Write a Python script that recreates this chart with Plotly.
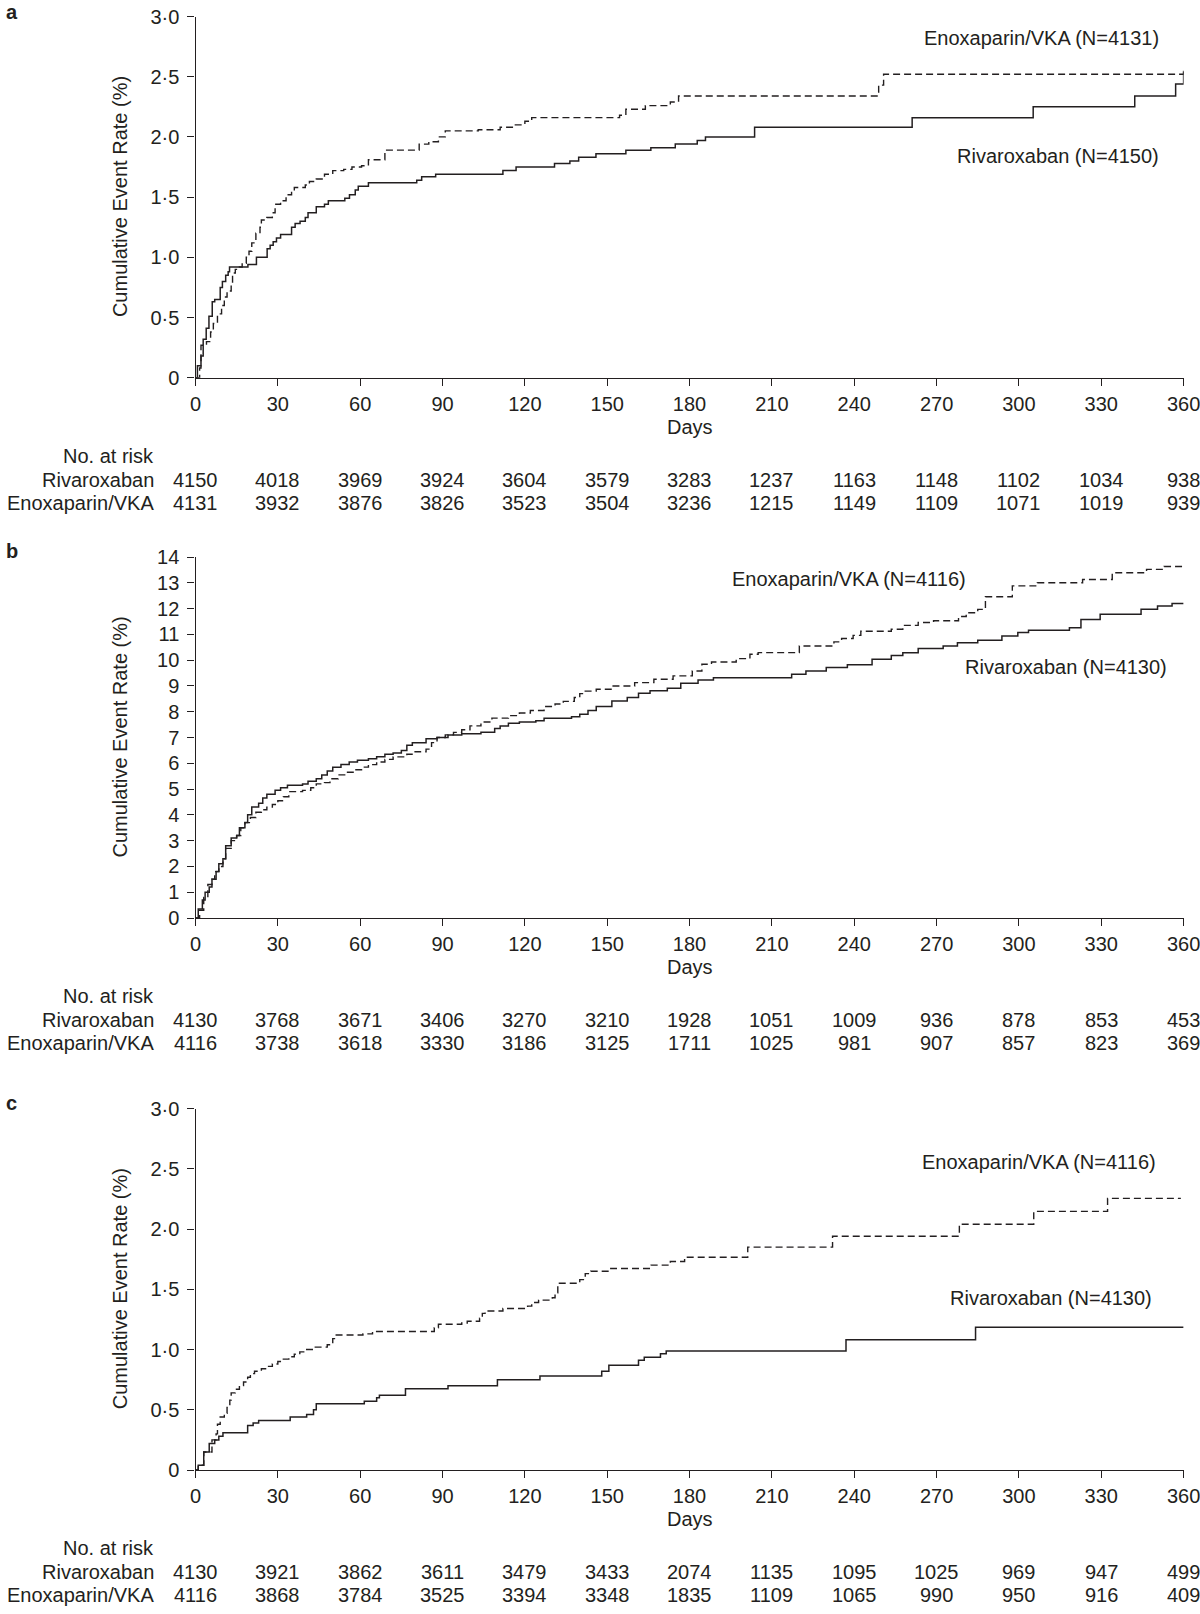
import plotly.graph_objects as go

# ---------------- data ----------------
days_ticks = [0, 30, 60, 90, 120, 150, 180, 210, 240, 270, 300, 330, 360]

# Panel a
a_riva_days = [0, 0.7, 2, 2.8, 3.9, 4.9, 6.1, 7, 9, 9.8, 11, 11.9, 12.4, 19.1, 22.2, 26.1, 27.2, 28.3, 29.5, 31,
               35, 36.3, 38.1, 40, 41, 44, 47, 48.4, 54.4, 56.1, 58.2, 59.3, 63, 80.6, 82.4, 87.5, 112, 116.8, 130.8, 136.4,
               139.6, 145.9, 156.8, 165.9, 174.8, 182.8, 185.8, 203.7, 261.1, 305.2, 342.2, 357.1, 360]
a_riva_rate = [0, .1, .18, .32, .41, .51, .63, .65, .75, .8, .85, .88, .92, .94, 1.0, 1.07, 1.1, 1.13, 1.16, 1.19,
               1.25, 1.28, 1.3, 1.33, 1.37, 1.42, 1.44, 1.47, 1.49, 1.52, 1.56, 1.59, 1.62, 1.64, 1.67, 1.69, 1.72, 1.75, 1.78, 1.8,
               1.83, 1.86, 1.89, 1.91, 1.94, 1.97, 2.0, 2.08, 2.16, 2.25, 2.34, 2.44, 2.55]
a_enox_days = [0, 1.5, 2, 4, 5.5, 6.5, 8, 9.5, 10.5, 11.5, 13, 13.5, 14.5, 16, 17, 18.5, 19.5, 20.5, 22, 23.5,
               24, 26, 28, 29, 31, 33, 35, 36, 40, 41.5, 44, 47, 50, 54, 57, 60.5, 63, 69, 81.5, 85,
               88.5, 91, 103, 111, 116, 120, 122.5, 154.5, 156.8, 163.9, 173, 176, 248.9, 250.7, 360]
a_enox_rate = [0, .08, .27, .3, .38, .45, .53, .6, .67, .72, .78, .87, .9, .92, .95, 1.0, 1.05, 1.12, 1.2, 1.25,
               1.31, 1.33, 1.37, 1.44, 1.47, 1.52, 1.55, 1.58, 1.6, 1.63, 1.65, 1.69, 1.72, 1.73, 1.75, 1.76, 1.81, 1.89, 1.94, 1.96,
               2.0, 2.05, 2.06, 2.08, 2.1, 2.13, 2.16, 2.18, 2.23, 2.26, 2.29, 2.34, 2.43, 2.52, 2.55]

# Panel b
b_riva_days = [0, 1, 2.5, 3.5, 5, 6, 7.5, 8.5, 10, 11, 13, 15, 16, 18, 19, 20.5, 23, 24.5, 26, 29,
               31, 33.5, 39, 41, 44, 46, 48, 50, 53, 56, 59, 63, 66, 69, 72, 75, 77, 79, 84, 88,
               92, 97, 104, 109, 111, 114, 118, 124, 127, 137, 140, 143, 146, 151.7, 157.3, 161.4, 165.6, 171.9, 176.8, 183.1,
               188.7, 217.2, 222.4, 229.8, 237.5, 246.5, 253.5, 257.7, 263.3, 272.4, 277.6, 285, 293.8, 299.6, 303.5, 318.4,
               322.6, 329.6, 344.5, 350.5, 355.8, 360]
b_riva_rate = [0, .35, .7, 1, 1.2, 1.5, 1.8, 2.1, 2.3, 2.8, 3.1, 3.2, 3.5, 3.7, 4.0, 4.3, 4.45, 4.65, 4.8, 4.95,
               5.05, 5.15, 5.2, 5.3, 5.4, 5.55, 5.7, 5.85, 5.95, 6.05, 6.12, 6.18, 6.25, 6.35, 6.4, 6.5, 6.7, 6.8, 6.95, 7.0,
               7.1, 7.15, 7.2, 7.35, 7.45, 7.55, 7.6, 7.65, 7.75, 7.8, 7.9, 8.05, 8.2, 8.42, 8.55, 8.72, 8.81, 8.91, 9.1, 9.23,
               9.32, 9.45, 9.58, 9.71, 9.82, 10.03, 10.18, 10.29, 10.45, 10.55, 10.67, 10.77, 10.94, 11.07, 11.16, 11.26,
               11.58, 11.78, 11.97, 12.1, 12.2, 12.2]
b_enox_days = [0, 1.5, 3, 4.5, 6, 7, 8.5, 10, 11, 13, 15, 16.5, 18, 20, 22, 24, 26, 28, 30, 32,
               34, 39, 42, 44, 47, 49, 52, 55, 58, 61, 63, 66, 69, 72, 77, 80, 84, 86, 88, 91,
               94, 97, 100, 104, 108, 114, 118, 122, 127, 131, 134, 138, 140, 142, 146, 151.7, 160, 167, 174, 181,
               184.5, 188, 197, 202, 205, 220, 232.6, 235.4, 239.6, 242.4, 253.5, 257.7, 263.3, 268.9, 278, 280.8, 285, 287.8,
               297.6, 306.7, 323.2, 334, 346.5, 352.9, 360]
b_enox_rate = [0, .3, .8, 1.3, 1.5, 1.8, 2.0, 2.3, 2.7, 3.0, 3.2, 3.5, 3.7, 3.9, 4.1, 4.2, 4.3, 4.4, 4.55, 4.7,
               4.9, 4.95, 5.05, 5.2, 5.25, 5.4, 5.55, 5.65, 5.75, 5.85, 5.95, 6.05, 6.15, 6.25, 6.35, 6.45, 6.55, 6.8, 7.0, 7.1,
               7.2, 7.3, 7.45, 7.6, 7.75, 7.85, 7.95, 8.05, 8.2, 8.3, 8.4, 8.55, 8.7, 8.8, 8.87, 9.0, 9.13, 9.26, 9.39, 9.58,
               9.84, 9.93, 10.06, 10.23, 10.29, 10.55, 10.71, 10.84, 10.96, 11.12, 11.2, 11.35, 11.46, 11.53, 11.69, 11.84, 11.97, 12.46,
               12.88, 13.0, 13.13, 13.39, 13.52, 13.63, 13.63]

# Panel c
c_riva_days = [0, 1, 3, 5, 7, 8.5, 10, 19, 21, 23, 34.5, 40.5, 43, 44, 61.5, 66, 67, 76.5, 92, 110,
               125.5, 148, 150.6, 161.4, 163.5, 169.4, 171.5, 237, 284.2, 360]
c_riva_rate = [0, .04, .15, .22, .25, .28, .31, .37, .39, .41, .44, .46, .5, .55, .57, .6, .62, .675, .7, .75,
               .78, .82, .87, .91, .935, .965, .987, 1.08, 1.184, 1.184]
c_enox_days = [0, 1, 3, 6, 7.5, 8, 9, 10.5, 11.5, 12.5, 13, 14.5, 16, 17.5, 19, 20, 21.5, 24, 26, 28,
               30, 31.5, 34, 36, 38, 40, 43, 48, 50, 51, 61, 64.5, 87, 88.5, 97, 99, 103.5, 104.5, 105.5, 112,
               121, 122.5, 125, 130, 131, 132, 140, 142, 144, 151.3, 166, 173, 178.2, 201.2, 232.1, 278.3, 305.4, 332.3, 359]
c_enox_rate = [0, .04, .15, .25, .3, .38, .44, .47, .52, .58, .64, .67, .7, .73, .77, .8, .82, .84, .86, .88,
               .9, .92, .94, .96, .98, 1.0, 1.02, 1.04, 1.09, 1.12, 1.13, 1.15, 1.18, 1.21, 1.22, 1.235, 1.26, 1.3, 1.32, 1.34,
               1.36, 1.39, 1.41, 1.43, 1.47, 1.55, 1.58, 1.63, 1.65, 1.672, 1.7, 1.73, 1.766, 1.85, 1.94, 2.04, 2.146, 2.254, 2.254]

# Numbers at risk
a_riva_risk = [4150, 4018, 3969, 3924, 3604, 3579, 3283, 1237, 1163, 1148, 1102, 1034, 938]
a_enox_risk = [4131, 3932, 3876, 3826, 3523, 3504, 3236, 1215, 1149, 1109, 1071, 1019, 939]
b_riva_risk = [4130, 3768, 3671, 3406, 3270, 3210, 1928, 1051, 1009, 936, 878, 853, 453]
b_enox_risk = [4116, 3738, 3618, 3330, 3186, 3125, 1711, 1025, 981, 907, 857, 823, 369]
c_riva_risk = [4130, 3921, 3862, 3611, 3479, 3433, 2074, 1135, 1095, 1025, 969, 947, 499]
c_enox_risk = [4116, 3868, 3784, 3525, 3394, 3348, 1835, 1109, 1065, 990, 950, 916, 409]

panel_letters = ["a", "b", "c"]
enox_labels = ["Enoxaparin/VKA (N=4131)", "Enoxaparin/VKA (N=4116)", "Enoxaparin/VKA (N=4116)"]
riva_labels = ["Rivaroxaban (N=4150)", "Rivaroxaban (N=4130)", "Rivaroxaban (N=4130)"]
y_ticks_small = [0, 0.5, 1.0, 1.5, 2.0, 2.5, 3.0]
y_ticktext_small = ["0", "0·5", "1·0", "1·5", "2·0", "2·5", "3·0"]
y_ticks_b = list(range(0, 15))

# ---------------- layout helpers ----------------
W, H = 1200, 1614
FONT = "Liberation Sans, Arial, Helvetica, sans-serif"
INK = "#231f20"
FS = 20

def py(px):
    return 1 - px / H

x_dom = [195.5 / W, 1183.6 / W]
# (plot top px, plot bottom px) for each panel
panel_px = [(16.5, 377.7), (557.0, 918.0), (1108.5, 1470.0)]
y_ranges = [[0, 3], [0, 14], [0, 3]]
y_tickvals = [y_ticks_small, y_ticks_b, y_ticks_small]
y_ticktexts = [y_ticktext_small, [str(v) for v in y_ticks_b], y_ticktext_small]
# label positions (data coords: right edge x, center y)
enox_lab_pos = [(351.8, 2.82), (281.3, 13.13), (350.7, 2.556)]
riva_lab_pos = [(351.8, 1.838), (354.7, 9.73), (349.2, 1.427)]

curves = [
    (a_riva_days, a_riva_rate, a_enox_days, a_enox_rate, a_riva_risk, a_enox_risk),
    (b_riva_days, b_riva_rate, b_enox_days, b_enox_rate, b_riva_risk, b_enox_risk),
    (c_riva_days, c_riva_rate, c_enox_days, c_enox_rate, c_riva_risk, c_enox_risk),
]

fig = go.Figure()
annotations = []
layout_axes = {}

for i, (rd, rr, ed, er, rrisk, erisk) in enumerate(curves):
    n = "" if i == 0 else str(i + 1)
    xa, ya = "x" + n, "y" + n
    fig.add_trace(go.Scatter(x=ed, y=er, mode="lines", line=dict(shape="hv", color=INK, width=1.4, dash="7px,4px"),
                             xaxis=xa, yaxis=ya, showlegend=False, hoverinfo="skip"))
    fig.add_trace(go.Scatter(x=rd, y=rr, mode="lines", line=dict(shape="hv", color=INK, width=1.5),
                             xaxis=xa, yaxis=ya, showlegend=False, hoverinfo="skip"))
    top, bot = panel_px[i]
    axis_common = dict(showline=True, linecolor=INK, linewidth=1.3, ticks="outside", ticklen=7, tickwidth=1.3,
                       tickcolor=INK, showgrid=False, zeroline=False, ticklabeloverflow="allow", automargin=False,
                       tickfont=dict(family=FONT, size=FS, color=INK))
    layout_axes["xaxis" + n] = dict(domain=x_dom, range=[0, 360], tickvals=days_ticks, anchor=ya,
                                    ticklabelstandoff=1, **axis_common)
    layout_axes["yaxis" + n] = dict(domain=[py(bot), py(top)], range=y_ranges[i], tickvals=y_tickvals[i],
                                    ticktext=y_ticktexts[i], anchor=xa, ticklabelstandoff=4, **axis_common)

    # panel letter
    annotations.append(dict(text="<b>" + panel_letters[i] + "</b>", x=4 / W, y=py(max(top - 6, 12)), xref="paper",
                            yref="paper", xanchor="left", yanchor="middle", showarrow=False,
                            font=dict(family=FONT, size=FS, color=INK)))
    # y title
    annotations.append(dict(text="Cumulative Event Rate (%)", x=120 / W, y=py((top + bot) / 2), xref="paper", yref="paper",
                            textangle=-90, xanchor="center", yanchor="middle", showarrow=False,
                            font=dict(family=FONT, size=FS, color=INK)))
    # Days
    annotations.append(dict(text="Days", x=180, y=py(bot + 49), xref=xa, yref="paper", xanchor="center",
                            yanchor="middle", showarrow=False, font=dict(family=FONT, size=FS, color=INK)))
    # curve labels
    annotations.append(dict(text=enox_labels[i], x=enox_lab_pos[i][0], y=enox_lab_pos[i][1], xref=xa, yref=ya,
                            xanchor="right", yanchor="middle", showarrow=False, font=dict(family=FONT, size=FS, color=INK)))
    annotations.append(dict(text=riva_labels[i], x=riva_lab_pos[i][0], y=riva_lab_pos[i][1], xref=xa, yref=ya,
                            xanchor="right", yanchor="middle", showarrow=False, font=dict(family=FONT, size=FS, color=INK)))
    # at-risk table
    row_y = [bot + 78, bot + 102, bot + 125]
    annotations.append(dict(text="No. at risk", x=156 / W, y=py(row_y[0]), xref="paper", yref="paper", xanchor="right",
                            yanchor="middle", showarrow=False, font=dict(family=FONT, size=FS, color=INK)))
    annotations.append(dict(text="Rivaroxaban", x=156 / W, y=py(row_y[1]), xref="paper", yref="paper", xanchor="right",
                            yanchor="middle", showarrow=False, font=dict(family=FONT, size=FS, color=INK)))
    annotations.append(dict(text="Enoxaparin/VKA", x=156 / W, y=py(row_y[2]), xref="paper", yref="paper", xanchor="right",
                            yanchor="middle", showarrow=False, font=dict(family=FONT, size=FS, color=INK)))
    for d, v in zip(days_ticks, rrisk):
        annotations.append(dict(text=str(v), x=d, y=py(row_y[1]), xref=xa, yref="paper", xanchor="center",
                                yanchor="middle", showarrow=False, font=dict(family=FONT, size=FS, color=INK)))
    for d, v in zip(days_ticks, erisk):
        annotations.append(dict(text=str(v), x=d, y=py(row_y[2]), xref=xa, yref="paper", xanchor="center",
                                yanchor="middle", showarrow=False, font=dict(family=FONT, size=FS, color=INK)))

fig.update_layout(
    width=W, height=H, autosize=False,
    margin=dict(l=0, r=0, t=0, b=0, autoexpand=False),
    paper_bgcolor="white", plot_bgcolor="white",
    font=dict(family=FONT, size=FS, color=INK),
    annotations=annotations,
    **layout_axes,
)

fig.write_html("out.html", config={"displayModeBar": False},
               post_script="document.body.style.margin='0';document.body.style.overflow='hidden';")
